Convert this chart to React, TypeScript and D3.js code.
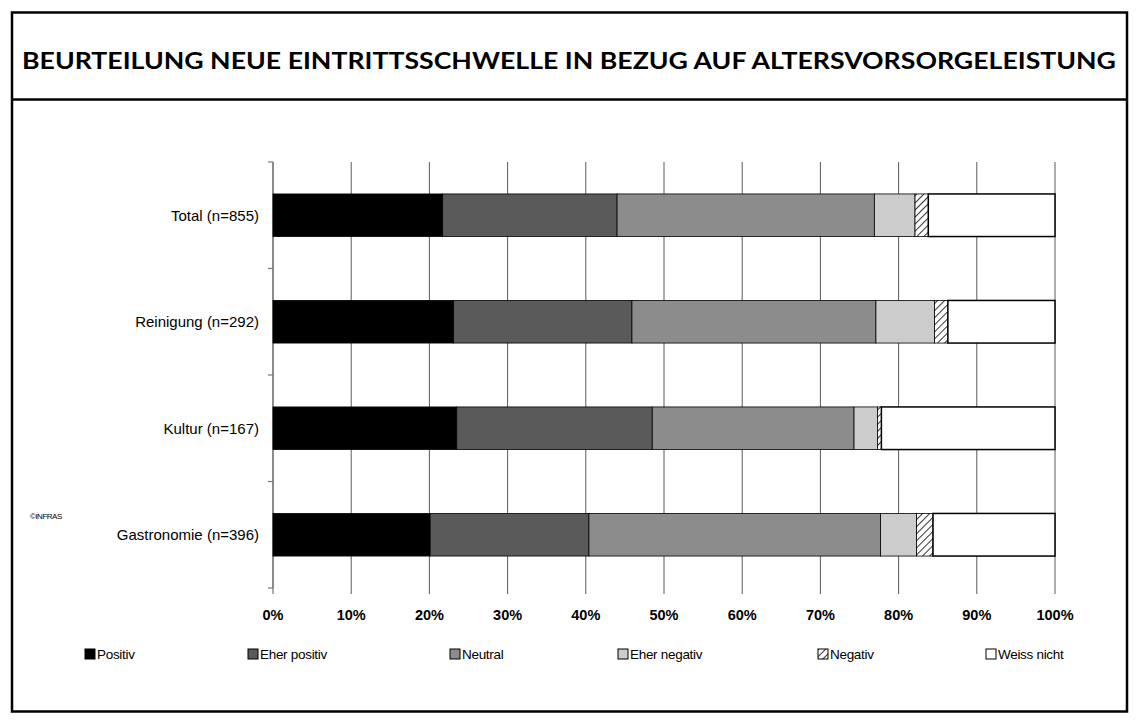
import React from "react";
import * as d3 from "d3";

const categories = ["Total (n=855)", "Reinigung (n=292)", "Kultur (n=167)", "Gastronomie (n=396)"];
const seriesNames = ["Positiv", "Eher positiv", "Neutral", "Eher negativ", "Negativ", "Weiss nicht"];
const positiv = [21.7, 23.1, 23.5, 20.1];
const eherPositiv = [22.3, 22.8, 25.0, 20.3];
const neutral = [32.9, 31.2, 25.8, 37.3];
const eherNegativ = [5.2, 7.5, 3.0, 4.6];
const negativ = [1.7, 1.7, 0.5, 2.1];
const weissNicht = [16.2, 13.7, 22.2, 15.6];
const xTicks = [0, 10, 20, 30, 40, 50, 60, 70, 80, 90, 100];
const title = "BEURTEILUNG NEUE EINTRITTSSCHWELLE IN BEZUG AUF ALTERSVORSORGELEISTUNG";

const fills = ["#000000", "#5a5a5a", "#8c8c8c", "#cccccc", "url(#hatch)", "#ffffff"];

export default function App() {
  const W = 1139, H = 724;
  const left = 273, right = 1055, top = 162, bottom = 588;
  const x = d3.scaleLinear().domain([0, 100]).range([left, right]);
  const y = d3.scaleBand<string>().domain(categories).range([top, bottom]).paddingInner(0.6).paddingOuter(0.3);
  const band = d3.scaleBand<string>().domain(categories).range([top, bottom]);

  const rows = categories.map((c, i) => {
    const o: any = { cat: c };
    o[seriesNames[0]] = positiv[i];
    o[seriesNames[1]] = eherPositiv[i];
    o[seriesNames[2]] = neutral[i];
    o[seriesNames[3]] = eherNegativ[i];
    o[seriesNames[4]] = negativ[i];
    o[seriesNames[5]] = weissNicht[i];
    return o;
  });
  const stacked = d3.stack<any>().keys(seriesNames)(rows);

  const bandTicks = categories.map((c) => band(c)!).concat([bottom]);
  const legendX = [85, 248, 450, 618, 818, 986];

  return (
    <svg width={W} height={H} style={{ position: "absolute", left: 0, top: 0, background: "#fff" }}
      fontFamily="Arial, 'Liberation Sans', sans-serif">
      <defs>
        <pattern id="hatch" patternUnits="userSpaceOnUse" width="5" height="5" patternTransform="rotate(45)">
          <rect width="5" height="5" fill="#fff" />
          <line x1="0" y1="0" x2="0" y2="5" stroke="#000" strokeWidth="1.6" />
        </pattern>
      </defs>
      <rect x={0} y={0} width={W} height={H} fill="#fff" />
      <rect x={12} y={12.5} width={1115} height={699} fill="none" stroke="#000" strokeWidth={2.5} />
      <line x1={12} x2={1127} y1={99.5} y2={99.5} stroke="#000" strokeWidth={2.5} />
      <text x={22} y={69} fontFamily="'URW Gothic', 'Lato', 'DejaVu Sans', sans-serif" fontWeight="bold" fontSize={22}
        textLength={1094} lengthAdjust="spacingAndGlyphs">{title}</text>

      {/* gridlines */}
      {xTicks.map((t) => (
        <line key={t} x1={x(t)} x2={x(t)} y1={top} y2={bottom + 6} stroke="#5a5a5a" strokeWidth={1} />
      ))}
      {/* y axis */}
      <line x1={left} x2={left} y1={top} y2={bottom} stroke="#777" strokeWidth={1.2} />
      {bandTicks.map((t, i) => (
        <line key={i} x1={left - 5} x2={left} y1={t} y2={t} stroke="#777" strokeWidth={1.2} />
      ))}

      {/* bars */}
      {stacked.map((s, si) =>
        s.map((d, i) => (
          <rect key={si + "-" + i} x={x(d[0])} y={y(categories[i])!} width={x(d[1]) - x(d[0])} height={y.bandwidth()}
            fill={fills[si]} stroke="#000" strokeWidth={si === 5 ? 1.5 : 0.8} />
        ))
      )}

      {/* category labels */}
      {categories.map((c) => (
        <text key={c} x={259} y={y(c)! + y.bandwidth() / 2} dy="0.35em" textAnchor="end" fontSize={15}>{c}</text>
      ))}

      {/* x tick labels */}
      {xTicks.map((t) => (
        <text key={t} x={x(t)} y={620} textAnchor="middle" fontSize={14.5} fontWeight="bold">{t + "%"}</text>
      ))}

      <text x={30} y={519} fontSize={8} letterSpacing={-0.5}>©INFRAS</text>

      {/* legend */}
      {seriesNames.map((n, i) => (
        <g key={n} transform={`translate(${legendX[i]},${649})`}>
          <rect x={0} y={0} width={10} height={10} fill={fills[i]} stroke="#000" strokeWidth={1} />
          <text x={12} y={10} fontSize={13.5} letterSpacing={-0.3}>{n}</text>
        </g>
      ))}
    </svg>
  );
}
